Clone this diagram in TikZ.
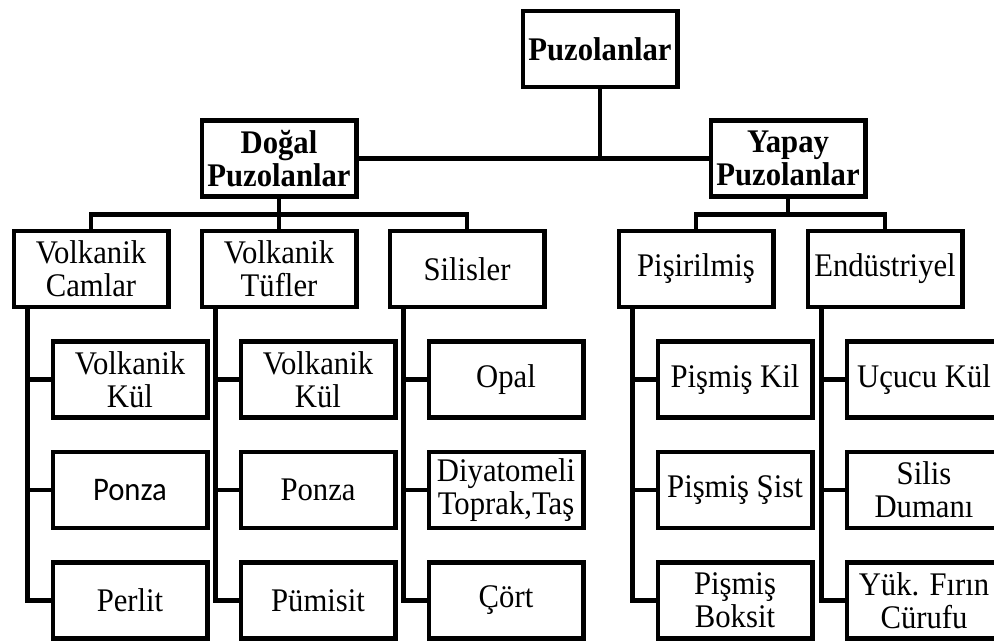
\documentclass[tikz,border=0pt]{standalone}
\usepackage{fontspec}
\setmainfont[FakeStretch=0.93]{Liberation Serif}
\newfontfamily\calibrifont[FakeStretch=0.93]{Carlito}
\usetikzlibrary{positioning}
\tikzset{
  every node/.style={font=\fontsize{33}{33}\selectfont,text=black},
  box/.style={draw=black,line width=4.5pt,minimum width=154.5pt,minimum height=76pt,align=center,inner sep=2pt},
  headbox/.style={box,font=\fontsize{33}{33}\selectfont\bfseries},
  link/.style={draw=black,line width=4.5pt},
}
\begin{document}
\begin{tikzpicture}[node distance=29pt and 29pt]
\useasboundingbox (0,0) rectangle (994pt,-644pt);

\node[box] (tuf) at (279pt,-269pt) {Volkanik\\Tüfler};
\node[box,left=of tuf] (vcam) {Volkanik\\Camlar};
\node[box,right=of tuf] (sil) {Silisler};
\node[box,right=70pt of sil] (pis) {Pişirilmiş};
\node[box,right=30pt of pis] (endus) {Endüstriyel};

\node[headbox,above=30pt of tuf] (dogal) {Doğal\\Puzolanlar};
\node[headbox,right=350pt of dogal] (yapay) {Yapay\\Puzolanlar};
\node[headbox,above right=29pt and 162pt of dogal] (root) {Puzolanlar};

\node[box,below=30pt of vcam,xshift=39pt] (vcam1) {Volkanik\\Kül};
\node[box,below=30pt of vcam1] (vcam2) {\calibrifont Ponza};
\node[box,below=30pt of vcam2] (vcam3) {Perlit};

\node[box,below=30pt of tuf,xshift=39pt] (tuf1) {Volkanik\\Kül};
\node[box,below=30pt of tuf1] (tuf2) {Ponza};
\node[box,below=30pt of tuf2] (tuf3) {Pümisit};

\node[box,below=30pt of sil,xshift=39pt] (sil1) {Opal};
\node[box,below=30pt of sil1] (sil2) {Diyatomeli\\Toprak,Taş};
\node[box,below=30pt of sil2] (sil3) {Çört};

\node[box,below=30pt of pis,xshift=39pt] (pis1) {Pişmiş Kil};
\node[box,below=30pt of pis1] (pis2) {Pişmiş Şist};
\node[box,below=30pt of pis2] (pis3) {Pişmiş\\Boksit};

\node[box,below=30pt of endus,xshift=39pt] (endus1) {Uçucu Kül};
\node[box,below=30pt of endus1] (endus2) {Silis\\Dumanı};
\node[box,below=30pt of endus2] (endus3) {Yük. Fırın\\Cürufu};

% top levels
\draw[link] (root.south) -- (root.south |- dogal.east);
\draw[link] (dogal.east) -- (yapay.west);
\draw[link] (dogal.south) -- (tuf.north);
\draw[link] (vcam.north) -- ++(0,14pt) -| (sil.north);
\draw[link] (yapay.south) -- ++(0,-16pt);
\draw[link] (pis.north) -- ++(0,14pt) -| (endus.north);

% trunks
\draw[link] (vcam1.west) -| ([xshift=16pt]vcam.south west);
\draw[link] (vcam2.west) -| ([xshift=16pt]vcam.south west);
\draw[link] (vcam3.west) -| ([xshift=16pt]vcam.south west);
\draw[link] (tuf1.west) -| ([xshift=16pt]tuf.south west);
\draw[link] (tuf2.west) -| ([xshift=16pt]tuf.south west);
\draw[link] (tuf3.west) -| ([xshift=16pt]tuf.south west);
\draw[link] (sil1.west) -| ([xshift=16pt]sil.south west);
\draw[link] (sil2.west) -| ([xshift=16pt]sil.south west);
\draw[link] (sil3.west) -| ([xshift=16pt]sil.south west);
\draw[link] (pis1.west) -| ([xshift=16pt]pis.south west);
\draw[link] (pis2.west) -| ([xshift=16pt]pis.south west);
\draw[link] (pis3.west) -| ([xshift=16pt]pis.south west);
\draw[link] (endus1.west) -| ([xshift=16pt]endus.south west);
\draw[link] (endus2.west) -| ([xshift=16pt]endus.south west);
\draw[link] (endus3.west) -| ([xshift=16pt]endus.south west);

\end{tikzpicture}
\end{document}
